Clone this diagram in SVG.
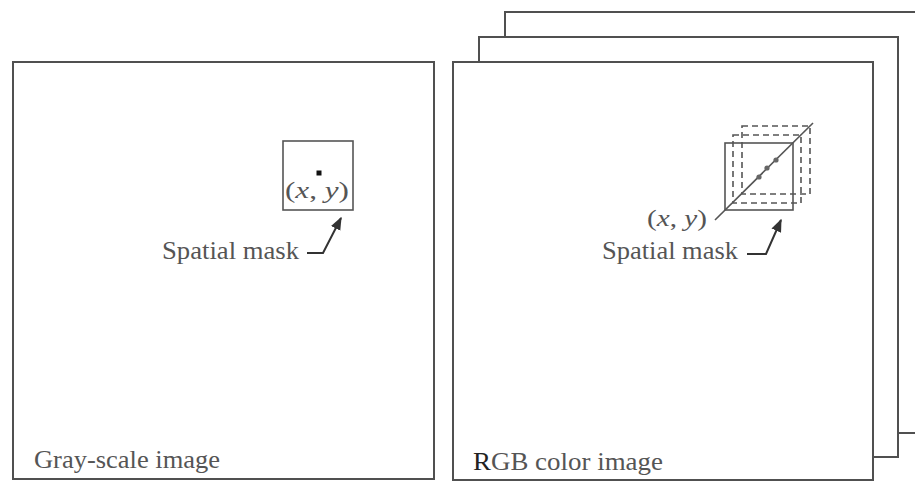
<svg xmlns="http://www.w3.org/2000/svg" width="915" height="482" viewBox="0 0 915 482">
<style>
.panel{fill:none;stroke:#505050;stroke-width:2}
.mask{fill:none;stroke:#555;stroke-width:1.6}
.dash{fill:none;stroke:#555;stroke-width:1.6;stroke-dasharray:6,4}
.lbl{font-family:"Liberation Serif","Times New Roman",serif;fill:#555;font-size:25px}
.it{font-family:"Liberation Serif","Times New Roman",serif;fill:#555;font-size:24px}
.v{font-style:italic}
.conn{fill:none;stroke:#333;stroke-width:2}
</style>
<defs>
<marker id="ah" viewBox="0 0 10 10" refX="9" refY="5" markerWidth="6.5" markerHeight="6.5" orient="auto" markerUnits="strokeWidth">
<path d="M0,1 L10,5 L0,9 Z" fill="#333"/>
</marker>
</defs>
<rect width="915" height="482" fill="#fff"/>
<g id="gray-image">
<rect class="panel" x="13" y="62" width="421" height="417"/>
<rect class="mask" x="283" y="141" width="70" height="69"/>
<rect x="316.5" y="170.5" width="5" height="5" fill="#111"/>
<text class="it" x="285" y="198" textLength="64" lengthAdjust="spacingAndGlyphs">(<tspan class="v">x</tspan>, <tspan class="v">y</tspan>)</text>
<text class="lbl" x="162" y="259" textLength="137" lengthAdjust="spacingAndGlyphs">Spatial mask</text>
<text class="lbl" x="34" y="468" textLength="186" lengthAdjust="spacingAndGlyphs">Gray-scale image</text>
</g>
<g id="rgb-image">
<polyline class="panel" points="505,37 505,12 915,12"/>
<polyline class="panel" points="898,433 915,433"/>
<polyline class="panel" points="479,62 479,37 898,37 898,457 873,457"/>
<rect class="panel" x="453" y="62" width="420" height="418"/>
<rect class="dash" x="742" y="126" width="68" height="68"/>
<rect class="dash" x="733" y="135" width="68" height="68"/>
<rect class="mask" x="725" y="143" width="68" height="67"/>
<line x1="715" y1="220" x2="813" y2="123" stroke="#555" stroke-width="1.6"/>
<circle cx="759" cy="177" r="2.6" fill="#666"/>
<circle cx="767" cy="168" r="2.6" fill="#666"/>
<circle cx="776" cy="160" r="2.6" fill="#666"/>
<text class="it" x="647" y="226" textLength="60" lengthAdjust="spacingAndGlyphs">(<tspan class="v">x</tspan>, <tspan class="v">y</tspan>)</text>
<text class="lbl" x="602" y="259" textLength="136" lengthAdjust="spacingAndGlyphs">Spatial mask</text>
<text class="lbl" x="473" y="470" textLength="190" lengthAdjust="spacingAndGlyphs"><tspan fill="#222">R</tspan>GB color image</text>
</g>
<g id="connectors">
<polyline class="conn" points="307,253 323,253 341,218" marker-end="url(#ah)"/>
<polyline class="conn" points="747,254 766,254 781,220" marker-end="url(#ah)"/>
</g>
</svg>
